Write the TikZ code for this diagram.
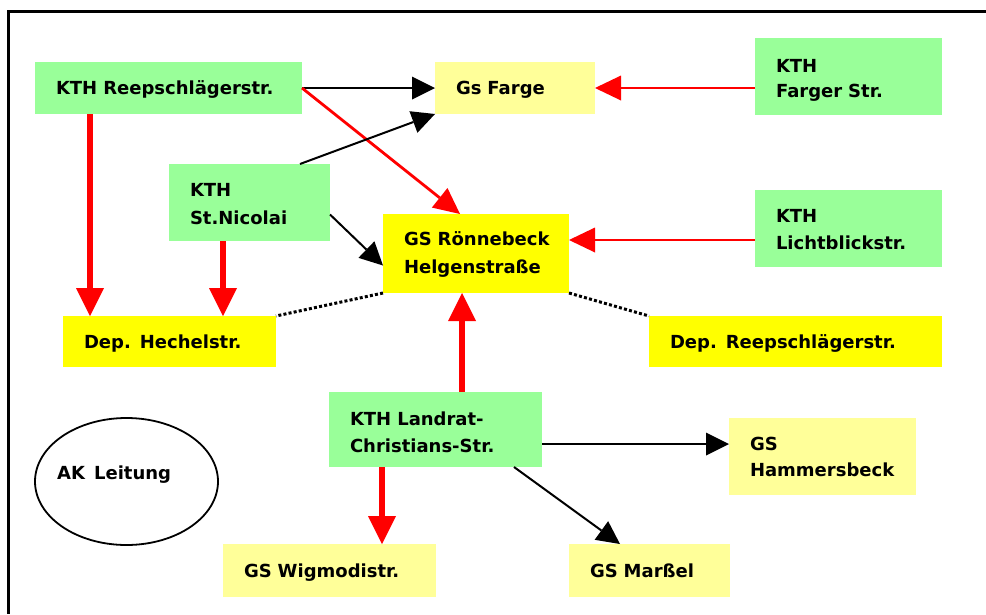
\documentclass[tikz,border=0pt]{standalone}
\usepackage{fontspec}
\setmainfont{DejaVu Sans}[WordSpace=1.45]
\usetikzlibrary{arrows.meta,shapes.geometric}
\definecolor{kgreen}{HTML}{99FF99}
\definecolor{lyel}{HTML}{FFFF99}
\definecolor{yel}{HTML}{FFFF00}
\definecolor{ared}{HTML}{FF0000}
\tikzset{
  lbl/.style={font=\bfseries\fontsize{18}{26}\selectfont},
  bx/.style={lbl, anchor=north west, inner xsep=21pt, inner ysep=0pt, outer sep=0pt, align=left, text height=13pt, text depth=0pt},
  blk/.style={draw=black, line width=2pt, -{Triangle[length=23pt,width=23pt,line width=0pt]}},
  redthin/.style={draw=ared, line width=2.8pt, -{Triangle[length=26pt,width=25pt,line width=0pt]}},
  redthick/.style={draw=ared, line width=6pt, -{Triangle[length=28pt,width=28pt,line width=0pt]}},
  dotline/.style={draw=black, line width=3pt, dash pattern=on 3pt off 2.2pt}
}
\begin{document}
\begin{tikzpicture}[x=1pt,y=-1pt]
\useasboundingbox (0,0) rectangle (986,614);
% frame
\draw[line width=3pt] (986,11.5) -- (8.5,11.5) -- (8.5,614);

\node[bx, fill=kgreen, minimum width=267pt, minimum height=52pt, text width=225pt] (reep) at (35,62) {\mbox{KTH Reepschlägerstr.}};
\node[bx, fill=lyel, minimum width=160pt, minimum height=52pt, text width=118pt] (farge) at (435,62) {\mbox{Gs Farge}};
\node[bx, fill=kgreen, minimum width=187pt, minimum height=77pt, text width=145pt, text depth=22pt] (fstr) at (755,38) {\mbox{KTH}\\[-1pt]\mbox{Farger Str.}};
\node[bx, fill=kgreen, minimum width=161pt, minimum height=77pt, text width=119pt, text depth=25pt] (nicolai) at (169,164) {\mbox{KTH}\\[2pt]\mbox{St.Nicolai}};
\node[bx, fill=yel, minimum width=186pt, minimum height=79pt, text width=144pt, text depth=29pt] (roenne) at (383,214) {\mbox{GS Rönnebeck}\\[2pt]\mbox{Helgenstraße}};
\node[bx, fill=kgreen, minimum width=187pt, minimum height=77pt, text width=145pt, text depth=25pt] (licht) at (755,190) {\mbox{KTH}\\[1pt]\mbox{Lichtblickstr.}};
\node[bx, fill=yel, minimum width=213pt, minimum height=51pt, text width=171pt] (hechel) at (63,316) {\mbox{Dep. Hechelstr.}};
\node[bx, fill=yel, minimum width=293pt, minimum height=51pt, text width=251pt] (depreep) at (649,316) {\mbox{Dep. Reepschlägerstr.}};
\node[bx, fill=kgreen, minimum width=213pt, minimum height=75pt, text width=171pt, text depth=22pt] (landrat) at (329,392) {\mbox{KTH Landrat-}\\[1pt]\mbox{Christians-Str.}};
\node[bx, fill=lyel, minimum width=187pt, minimum height=77pt, text width=145pt, text depth=26pt] (hammers) at (729,418) {\mbox{GS}\\[0pt]\mbox{Hammersbeck}};
\node[bx, fill=lyel, minimum width=213pt, minimum height=53pt, text width=171pt] (wigmo) at (223,544) {\mbox{GS Wigmodistr.}};
\node[bx, fill=lyel, minimum width=161pt, minimum height=53pt, text width=119pt] (marsel) at (569,544) {\mbox{GS Marßel}};

\node[draw, line width=1.8pt, ellipse, minimum width=183pt, minimum height=127pt, inner sep=0pt, outer sep=0pt] (ak) at (126.5,481.5) {};
\node[lbl, anchor=base west, inner sep=0pt] (aklbl) at (57,479) {AK Leitung};

% connectors
\draw[blk] (reep.east) -- (farge.west);
\draw[redthin] (reep.east) -- ([xshift=77pt]roenne.north west);
\draw[redthick] ([xshift=55pt]reep.south west) -- ([xshift=27pt]hechel.north west);
\draw[blk] ([xshift=131pt]nicolai.north west) -- (farge.south west);
\draw[blk] ([yshift=-12pt]nicolai.east) -- ([yshift=-12pt]roenne.west);
\draw[redthick] ([xshift=54pt]nicolai.south west) -- ([xshift=160pt]hechel.north west);
\draw[redthin] ([yshift=-11.5pt]fstr.west) -- (farge.east);
\draw[redthin] ([yshift=-11.5pt]licht.west) -- ([yshift=13.5pt]roenne.east);
\draw[dotline] (roenne.south west) -- (hechel.north east);
\draw[dotline] (roenne.south east) -- (depreep.north west);
\draw[redthick] ([xshift=133pt]landrat.north west) -- ([xshift=79pt]roenne.south west);
\draw[blk] ([yshift=-14.5pt]landrat.east) -- ([yshift=12.5pt]hammers.west);
\draw[blk] ([xshift=185pt]landrat.south west) -- ([xshift=51pt]marsel.north west);
\draw[redthick] ([xshift=53pt]landrat.south west) -- ([xshift=159pt]wigmo.north west);
\end{tikzpicture}
\end{document}
